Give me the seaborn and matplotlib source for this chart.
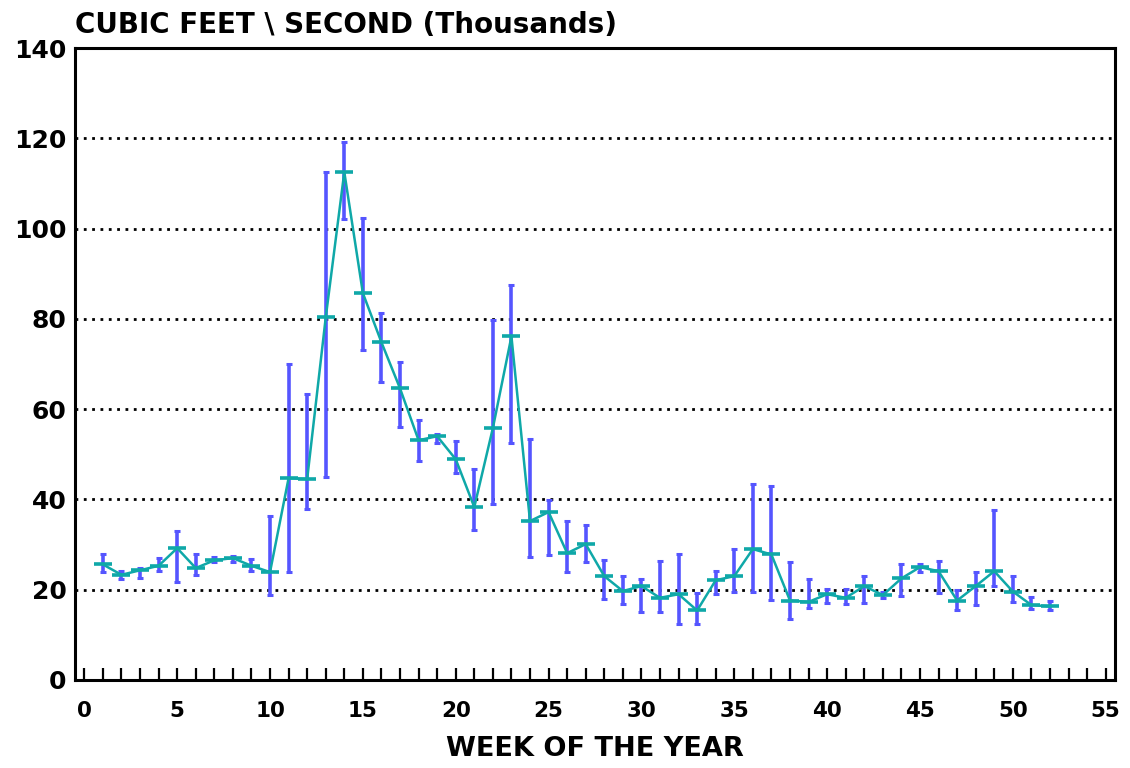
import numpy as np
import pandas as pd
import matplotlib
matplotlib.use("Agg")
import matplotlib.pyplot as plt
import seaborn as sns

# weekly flow, thousands of cubic feet / second
weeks = list(range(1, 53))
flow = [25.6, 23.3, 24.3, 25.3, 29.2, 24.8, 26.5, 27.0, 25.3, 23.9,
        44.7, 44.5, 80.3, 112.5, 85.7, 74.8, 64.6, 53.1, 54.0, 48.9,
        38.3, 55.8, 76.1, 35.2, 37.2, 28.1, 30.1, 23.0, 19.7, 20.8,
        18.2, 19.0, 15.4, 22.1, 23.0, 29.0, 27.8, 17.6, 17.3, 19.0,
        18.2, 20.8, 18.8, 22.5, 25.0, 24.1, 17.6, 20.8, 24.1, 19.6,
        16.6, 16.3]
flow_hi = [27.9, 24.2, 24.9, 27.1, 32.9, 27.8, 27.3, 27.4, 26.7, 36.4,
           70.1, 63.4, 112.6, 119.2, 102.3, 81.2, 70.5, 57.7, 54.6, 53.0,
           46.8, 79.8, 87.4, 53.4, 39.9, 35.3, 34.3, 26.6, 23.1, 22.4,
           26.4, 27.8, 19.3, 24.2, 29.0, 43.5, 43.0, 26.2, 22.4, 20.1,
           20.1, 23.1, 19.4, 25.8, 25.8, 26.3, 19.9, 24.0, 37.7, 23.1,
           18.3, 17.6]
flow_lo = [23.9, 22.3, 22.7, 24.1, 21.7, 23.2, 26.1, 26.2, 24.2, 18.8,
           24.0, 37.8, 44.9, 102.1, 73.0, 66.0, 56.0, 48.6, 52.4, 45.8,
           33.2, 39.0, 52.6, 27.3, 27.7, 24.0, 26.1, 18.0, 16.8, 15.1,
           15.1, 12.5, 12.5, 19.1, 19.6, 19.4, 17.7, 13.5, 16.0, 17.0,
           16.8, 17.1, 18.1, 18.7, 23.9, 19.2, 15.5, 16.6, 20.8, 17.3,
           15.7, 15.4]

df = pd.DataFrame({"week": weeks, "flow": flow, "hi": flow_hi, "lo": flow_lo})

sns.set_theme(style="white")
plt.rcParams["font.family"] = ["DejaVu Sans"]
plt.rcParams["font.weight"] = "bold"
plt.rcParams["text.color"] = "black"
plt.rcParams["xtick.color"] = "black"
plt.rcParams["ytick.color"] = "black"
plt.rcParams["axes.labelcolor"] = "black"

fig = plt.figure(figsize=(11.3, 7.68), dpi=100)
ax = fig.add_axes([0.0664, 0.1146, 0.9203, 0.8229])

blue = "#5555ff"
teal = "#0fa8a8"

ax.errorbar(df["week"], df["flow"],
            yerr=[df["flow"] - df["lo"], df["hi"] - df["flow"]],
            fmt="none", ecolor=blue, elinewidth=2.6, capsize=2, capthick=2.2, zorder=2)
sns.lineplot(data=df, x="week", y="flow", ax=ax, color=teal, linewidth=1.8,
             marker="_", markersize=13, markeredgewidth=2.6, markeredgecolor=teal,
             zorder=3)

ax.set_xlim(-0.5, 55.5)
ax.set_ylim(0, 140)
ax.set_xticks(np.arange(0, 56, 5))
ax.set_xticks(np.arange(0, 56, 1), minor=True)
ax.set_yticks(np.arange(0, 141, 20))
ax.tick_params(axis="x", which="both", direction="in", length=9, width=1.6,
               bottom=True, labelsize=15.5, pad=15)
ax.tick_params(axis="y", length=0, labelsize=18, pad=6)
for lab in ax.get_xticklabels() + ax.get_yticklabels():
    lab.set_fontweight("bold")

ax.grid(False)
for y in range(20, 140, 20):
    ax.axhline(y, color="black", linestyle=(0, (1, 2)), linewidth=2.0, zorder=1)

for s in ax.spines.values():
    s.set_color("black")
    s.set_linewidth(2.2)

ax.set_xlabel("WEEK OF THE YEAR", fontsize=19.5, fontweight="bold", labelpad=11)
ax.set_ylabel("")
fig.text(0.0664, 0.968, "CUBIC FEET \\ SECOND (Thousands)", fontsize=20,
         fontweight="bold", ha="left", va="center")

fig.savefig("out.png", dpi=100)
